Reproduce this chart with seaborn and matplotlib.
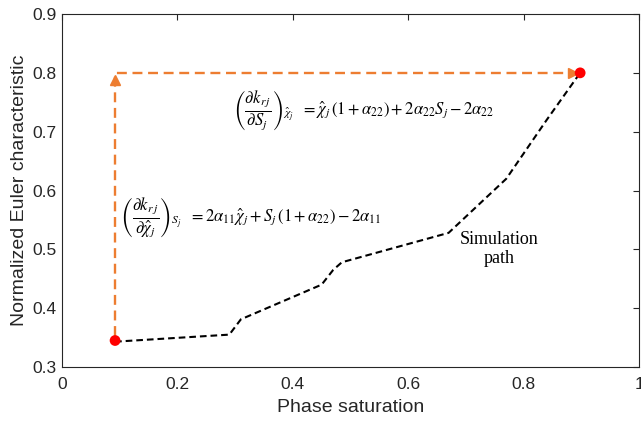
import matplotlib
matplotlib.use("Agg")
import matplotlib.pyplot as plt
import seaborn as sns
import pandas as pd

# ---- data ----
path_x = [0.092, 0.29, 0.31, 0.45, 0.47, 0.485, 0.67, 0.77, 0.84, 0.898]
path_y = [0.343, 0.355, 0.381, 0.440, 0.465, 0.478, 0.528, 0.620, 0.720, 0.800]
end_x = [0.092, 0.898]
end_y = [0.345, 0.800]
arrow_x = [0.092, 0.092, 0.886]
arrow_y = [0.352, 0.800, 0.800]
xticks = [0, 0.2, 0.4, 0.6, 0.8, 1]
yticks = [0.3, 0.4, 0.5, 0.6, 0.7, 0.8, 0.9]

sns.set_theme(style="white")
plt.rcParams["font.family"] = ["Liberation Sans", "DejaVu Sans"]
plt.rcParams["mathtext.fontset"] = "stix"

fig = plt.figure(figsize=(6.41, 4.21), dpi=100)
ax = fig.add_axes([0.0967, 0.1283, 0.9002, 0.8384])

orange = "#ED7D31"
dfa = pd.DataFrame({"x": arrow_x, "y": arrow_y})
sns.lineplot(data=dfa, x="x", y="y", sort=False, ax=ax, color=orange,
             linewidth=1.7, estimator=None)
ax.lines[-1].set_dashes([4.2, 2.4])
# arrowheads
ax.plot([arrow_x[0]], [0.788], marker="^", color=orange, markersize=6.5, linestyle="none")
ax.plot([arrow_x[-1]], [arrow_y[-1]], marker=">", color=orange, markersize=6.5, linestyle="none")

dfp = pd.DataFrame({"x": path_x, "y": path_y})
sns.lineplot(data=dfp, x="x", y="y", sort=False, ax=ax, color="black",
             linewidth=1.5, estimator=None)
ax.lines[-1].set_dashes([3.2, 1.9])

dfe = pd.DataFrame({"x": end_x, "y": end_y})
sns.scatterplot(data=dfe, x="x", y="y", ax=ax, color="#FF0000", s=60,
                edgecolor="none", zorder=5)

ax.text(0.297, 0.737,
        r"$\left(\dfrac{\partial k_{r\,j}}{\partial S_j}\right)_{\hat{\chi}_j}\ \ =\hat{\chi}_j\,\left(1+\alpha_{22}\right)+2\alpha_{22}S_j-2\alpha_{22}$",
        fontsize=12, va="center", ha="left", color="black")
ax.text(0.1, 0.553,
        r"$\left(\dfrac{\partial k_{r\,j}}{\partial \hat{\chi}_j}\right)_{S_j}\ \ =2\alpha_{11}\hat{\chi}_j+S_j\,\left(1+\alpha_{22}\right)-2\alpha_{11}$",
        fontsize=12, va="center", ha="left", color="black")
ax.text(0.757, 0.50, "Simulation\npath", fontsize=13, ha="center", va="center",
        family="Liberation Serif", linespacing=1.15, color="black")

ax.set_xlim(0, 1)
ax.set_ylim(0.3, 0.9)
ax.set_xticks(xticks)
ax.set_xticklabels(["0", "0.2", "0.4", "0.6", "0.8", "1"])
ax.set_yticks(yticks)
ax.set_yticklabels([f"{v:.1f}" for v in yticks])
ax.tick_params(direction="in", top=True, right=True, length=4, width=0.8,
               colors="#262626", labelsize=12.5, labelcolor="#262626")
ax.tick_params(axis="x", pad=7)
ax.tick_params(axis="y", pad=4)
for s in ax.spines.values():
    s.set_visible(True)
    s.set_color("#262626")
    s.set_linewidth(0.8)
ax.set_xlabel("Phase saturation", fontsize=14, color="#262626", labelpad=5)
ax.set_ylabel("Normalized Euler characteristic", fontsize=14, color="#262626", labelpad=3)
legend = ax.get_legend()
if legend:
    legend.remove()

fig.savefig("out.png", dpi=100)
